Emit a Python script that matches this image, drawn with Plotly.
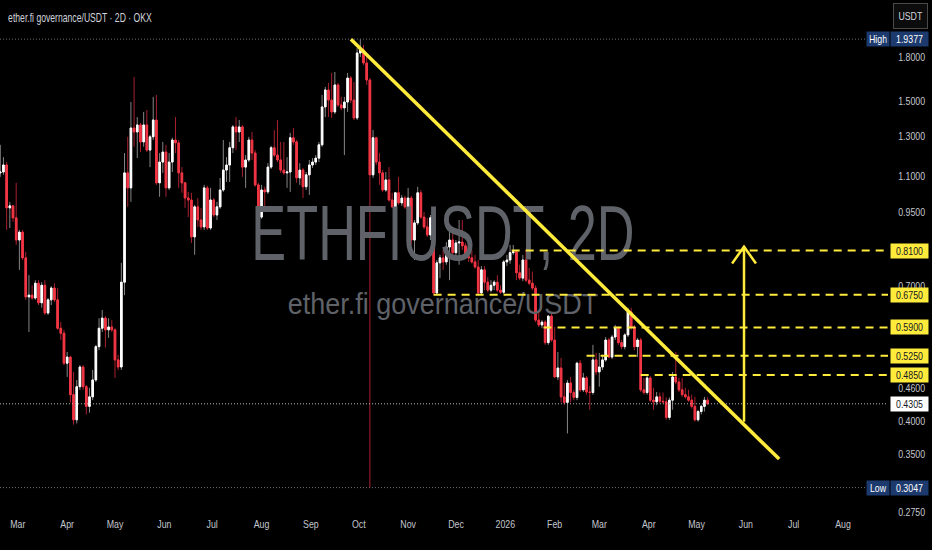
import json
import numpy as np
import pandas as pd
import plotly.graph_objects as go

# ---------------- data ----------------
START_DATE = "2025-02-18"   # first 2D candle

opens = [1.116,1.120,1.153,0.966,0.974,0.927,0.846,0.874,0.786,0.669,
 0.674,0.666,0.708,0.653,0.702,0.626,0.661,0.694,0.661,0.588,
 0.576,0.509,0.522,0.447,0.403,0.462,0.501,0.462,0.426,0.443,
 0.475,0.545,0.588,0.613,0.584,0.591,0.584,0.516,0.501,0.711,
 1.116,1.049,1.343,1.321,1.360,1.268,1.360,1.226,1.295,1.388,
 1.071,1.167,1.216,1.049,1.167,1.278,1.263,1.116,1.071,1.006,
 0.998,0.857,0.970,0.919,0.893,1.049,0.889,0.998,0.938,0.970,
 1.040,1.129,1.153,1.238,1.349,1.321,1.349,1.143,1.177,1.278,
 1.211,1.062,0.930,1.040,1.032,1.143,1.238,1.201,1.177,1.129,
 1.116,1.120,1.290,1.268,1.093,
 1.129,1.054,1.107,1.153,1.167,1.186,1.253,1.465,1.571,1.507,
 1.435,1.604,1.477,1.459,1.495,1.650,
 1.507,1.400,1.830,1.853,1.756,1.637,1.107,1.290,1.167,1.116,
 1.040,1.084,0.998,0.970,1.028,0.986,1.006,0.970,1.006,0.846,
 0.908,1.028,0.930,0.893,0.864,
 0.927,0.680,0.770,0.786,0.773,0.822,0.846,0.803,0.836,0.839,
 0.826,0.790,0.786,0.773,0.757,0.680,0.748,0.711,0.688,0.702,
 0.711,0.688,0.682,0.773,0.779,0.803,0.806,0.739,0.723,0.779,
 0.717,0.708,0.694,0.608,0.596,0.603,0.554,0.618,0.560,0.481,0.499,0.443,
 0.433,0.469,0.451,0.442,0.509,0.456,0.479,0.452,0.451,0.516,
 0.491,0.501,0.516,0.560,0.522,0.567,0.588,0.554,0.545,0.572,
 0.629,0.591,0.545,0.560,0.456,0.451,0.479,0.437,0.434,0.443,0.435,
 0.434,0.407,0.437,0.481,0.471,0.456,0.447,0.443,0.437,0.426,
 0.403,0.417,0.426,0.437]

highs = [1.253,1.191,1.167,0.990,0.978,1.071,0.882,0.882,0.806,0.732,
 0.702,0.717,0.717,0.711,0.717,0.666,0.699,0.708,0.694,0.603,
 0.584,0.533,0.525,0.491,0.475,0.505,0.505,0.465,0.460,0.495,
 0.549,0.613,0.634,0.618,0.613,0.608,0.588,0.527,0.770,1.211,
 1.295,1.495,1.657,1.405,1.371,1.435,1.446,1.305,1.527,1.539,
 1.211,1.268,1.253,1.211,1.290,1.405,1.278,1.143,1.075,1.032,
 1.028,0.978,1.006,0.966,1.062,1.058,1.049,1.006,0.990,1.093,
 1.278,1.191,1.268,1.360,1.405,1.388,1.360,1.201,1.295,1.321,
 1.226,1.071,1.062,1.054,1.162,1.248,1.332,1.388,1.268,1.268,
 1.191,1.316,1.343,1.278,1.162,
 1.139,1.120,1.177,1.186,1.201,1.268,1.539,1.591,1.617,1.685,
 1.692,1.617,1.527,1.527,1.685,1.664,
 1.624,1.867,1.9377,1.891,1.815,1.650,1.332,1.295,1.211,1.129,
 1.120,1.143,1.028,1.032,1.098,1.019,1.015,1.049,1.015,0.919,
 1.054,1.040,0.950,0.927,0.938,
 0.938,0.779,0.796,0.812,0.839,0.874,0.882,0.846,0.919,0.919,
 0.836,0.822,0.812,0.796,0.779,0.760,0.760,0.726,0.717,0.717,
 0.732,0.702,0.779,0.796,0.829,0.829,0.812,0.764,0.796,0.812,
 0.754,0.743,0.702,0.629,0.608,0.608,0.621,0.626,0.591,0.533,0.520,0.469,
 0.475,0.481,0.456,0.512,0.516,0.489,0.483,0.463,0.549,0.531,
 0.531,0.527,0.567,0.565,0.572,0.596,0.593,0.560,0.576,0.640,
 0.640,0.596,0.565,0.565,0.479,0.483,0.483,0.460,0.452,0.451,0.451,
 0.442,0.442,0.491,0.533,0.479,0.479,0.460,0.456,0.447,0.443,
 0.420,0.429,0.443,0.442]

lows = [1.098,1.107,0.882,0.889,0.912,0.829,0.748,0.779,0.661,0.579,
 0.661,0.661,0.647,0.640,0.621,0.621,0.647,0.655,0.584,0.560,
 0.505,0.481,0.433,0.395,0.397,0.456,0.456,0.412,0.415,0.437,
 0.471,0.537,0.579,0.543,0.565,0.579,0.479,0.495,0.495,0.674,
 0.970,0.990,1.243,1.186,1.216,1.243,1.216,1.143,1.278,1.062,
 1.011,1.116,1.011,1.040,1.120,1.211,1.049,1.028,0.966,0.930,
 0.836,0.796,0.893,0.882,0.882,0.882,0.882,0.930,0.919,0.962,
 1.032,1.075,1.075,1.211,1.226,1.268,1.098,1.049,1.167,1.177,
 1.054,0.908,0.923,0.958,1.023,1.134,1.191,1.167,1.116,1.107,
 1.049,1.032,1.253,1.071,1.062,
 1.006,1.040,1.019,1.139,1.153,1.167,1.243,1.405,1.405,1.400,
 1.423,1.465,1.446,1.201,1.435,1.489,
 1.388,1.388,1.800,1.742,1.604,0.3047,1.093,1.153,1.062,1.032,
 1.032,0.990,0.966,0.962,0.978,0.974,0.962,0.958,0.829,0.779,
 0.900,0.923,0.885,0.857,0.846,
 0.674,0.674,0.723,0.748,0.764,0.717,0.796,0.790,0.764,0.812,
 0.783,0.773,0.767,0.751,0.674,0.674,0.688,0.682,0.682,0.688,
 0.682,0.677,0.677,0.760,0.767,0.796,0.717,0.717,0.714,0.711,
 0.702,0.688,0.603,0.591,0.588,0.549,0.549,0.556,0.479,0.475,0.433,0.429,
 0.381,0.433,0.437,0.437,0.452,0.452,0.447,0.420,0.447,0.485,
 0.462,0.495,0.512,0.520,0.518,0.560,0.549,0.539,0.539,0.567,
 0.584,0.537,0.522,0.452,0.447,0.447,0.434,0.420,0.428,0.431,0.431,
 0.403,0.403,0.420,0.467,0.452,0.443,0.440,0.434,0.422,0.400,
 0.400,0.412,0.417,0.428]

closes = [1.120,1.153,0.966,0.974,0.927,0.846,0.874,0.786,0.669,0.674,
 0.666,0.708,0.653,0.702,0.626,0.661,0.694,0.661,0.588,0.576,
 0.509,0.522,0.447,0.403,0.462,0.501,0.462,0.426,0.443,0.475,
 0.545,0.588,0.613,0.584,0.591,0.584,0.516,0.501,0.711,1.116,
 1.049,1.343,1.321,1.360,1.268,1.360,1.226,1.295,1.388,1.071,
 1.167,1.216,1.049,1.167,1.278,1.263,1.116,1.071,1.006,0.998,
 0.857,0.970,0.919,0.893,1.049,0.889,0.998,0.938,0.970,1.040,
 1.129,1.153,1.238,1.349,1.321,1.349,1.143,1.177,1.278,1.211,
 1.062,0.930,1.040,1.032,1.143,1.238,1.201,1.177,1.129,1.116,
 1.120,1.290,1.268,1.093,1.129,
 1.054,1.107,1.153,1.167,1.186,1.253,1.465,1.571,1.507,1.435,
 1.604,1.477,1.459,1.495,1.650,1.507,
 1.400,1.830,1.853,1.756,1.637,1.107,1.290,1.167,1.116,1.040,
 1.084,0.998,0.970,1.028,0.986,1.006,0.970,1.006,0.846,0.908,
 1.028,0.930,0.893,0.864,0.927,
 0.680,0.770,0.786,0.773,0.822,0.846,0.803,0.836,0.839,0.826,
 0.790,0.786,0.773,0.757,0.680,0.748,0.711,0.688,0.702,0.711,
 0.688,0.682,0.773,0.779,0.803,0.806,0.739,0.723,0.779,0.717,
 0.708,0.694,0.608,0.596,0.603,0.554,0.618,0.560,0.481,0.499,0.443,0.433,
 0.469,0.451,0.442,0.509,0.456,0.479,0.452,0.451,0.516,0.491,
 0.501,0.516,0.560,0.522,0.567,0.588,0.554,0.545,0.572,0.629,
 0.591,0.545,0.560,0.456,0.451,0.479,0.437,0.434,0.443,0.435,0.434,
 0.407,0.437,0.481,0.471,0.456,0.447,0.443,0.437,0.426,0.403,
 0.417,0.426,0.437,0.4305]

HIGH_VALUE = 1.9377
LOW_VALUE = 0.3047
LAST_VALUE = 0.4305

LEVELS = [0.81, 0.675, 0.59, 0.525, 0.485]
LEVEL_START = ["2026-01-05", "2025-11-17", "2026-01-25", "2026-02-21", "2026-03-27"]

TREND_X = ["2025-09-26 02:00", "2026-06-21 22:00"]
TREND_Y = [1.937, 0.3427]

ARROW_X = ["2026-05-30 20:00", "2026-05-30 20:00"]
ARROW_Y = [0.3998, 0.823]
ARROW_HEAD_X = ["2026-05-23 08:00", "2026-05-30 20:00", "2026-06-07 08:00"]
ARROW_HEAD_Y = [0.768, 0.823, 0.768]

Y_TICKS = [1.8, 1.5, 1.3, 1.1, 0.95, 0.7, 0.46, 0.4, 0.35, 0.275]
X_TICKS = ["2025-03-01", "2025-04-01", "2025-05-01", "2025-06-01", "2025-07-01", "2025-08-01",
           "2025-09-01", "2025-10-01", "2025-11-01", "2025-12-01", "2026-01-01", "2026-02-01",
           "2026-03-01", "2026-04-01", "2026-05-01", "2026-06-01", "2026-07-01", "2026-08-01"]
X_LABELS = ["Mar", "Apr", "May", "Jun", "Jul", "Aug", "Sep", "Oct", "Nov", "Dec", "2026",
            "Feb", "Mar", "Apr", "May", "Jun", "Jul", "Aug"]

WATERMARK_TITLE = "ETHFIUSDT, 2D"
WATERMARK_SUB = "ether.fi governance/USDT"
CHART_TITLE = "ether.fi governance/USDT · 2D · OKX"

X_RANGE = ["2025-02-17 20:00", "2026-08-29 05:00"]
Y_RANGE_PRICE = [0.2710, 2.277]

# ---------------- styles ----------------
FONT = "Liberation Sans, Arial, sans-serif"
BG = "#000000"
UP = "#ffffff"
DOWN = "#f23645"
UP_WICK = "#858585"
DOWN_WICK = "#a8202e"
YELLOW = "#ffeb3b"
AXIS_TEXT = "#c3c6ce"
WATERMARK = "#5f6268"
BLUE_BOX = "#1d3a6e"

dates = pd.date_range(START_DATE, periods=len(closes), freq="2D")
o = np.array(opens); c = np.array(closes)
body_hi = np.maximum(o, c); body_lo = np.minimum(o, c)

fig = go.Figure()

# watermark (behind everything)
fig.add_trace(go.Scatter(x=["2025-11-22 21:00"], y=[0.845], mode="text",
                         text=[WATERMARK_TITLE], textposition="middle center",
                         textfont=dict(family=FONT, size=78, color=WATERMARK),
                         hoverinfo="skip", showlegend=False))
fig.add_trace(go.Scatter(x=["2025-11-22 21:00"], y=[0.643], mode="text",
                         text=[WATERMARK_SUB], textposition="middle center",
                         textfont=dict(family=FONT, size=29, color=WATERMARK),
                         hoverinfo="skip", showlegend=False))

# high / low / last dotted lines
fig.add_trace(go.Scatter(x=[X_RANGE[0], "2026-08-16"], y=[HIGH_VALUE]*2, mode="lines",
                         line=dict(color="#6d707a", width=1, dash="1px,2px"),
                         hoverinfo="skip", showlegend=False))
fig.add_trace(go.Scatter(x=[X_RANGE[0], "2026-08-16"], y=[LOW_VALUE]*2, mode="lines",
                         line=dict(color="#6d707a", width=1, dash="1px,2px"),
                         hoverinfo="skip", showlegend=False))
fig.add_trace(go.Scatter(x=X_RANGE, y=[LAST_VALUE]*2, mode="lines",
                         line=dict(color="#b8b8b8", width=1, dash="1px,2px"),
                         hoverinfo="skip", showlegend=False))

# candles: wicks (dim) then bodies (bright)
fig.add_trace(go.Candlestick(x=dates, open=opens, high=highs, low=lows, close=closes,
                             increasing=dict(line=dict(color=UP_WICK, width=1), fillcolor=UP_WICK),
                             decreasing=dict(line=dict(color=DOWN_WICK, width=1), fillcolor=DOWN_WICK),
                             hoverinfo="skip", showlegend=False))
fig.add_trace(go.Candlestick(x=dates, open=opens, high=body_hi, low=body_lo, close=closes,
                             increasing=dict(line=dict(color=UP, width=1), fillcolor=UP),
                             decreasing=dict(line=dict(color=DOWN, width=1), fillcolor=DOWN),
                             hoverinfo="skip", showlegend=False))

# dashed resistance levels
for lv, st in zip(LEVELS, LEVEL_START):
    fig.add_trace(go.Scatter(x=[st, X_RANGE[1]], y=[lv, lv], mode="lines",
                             line=dict(color=YELLOW, width=2, dash="8px,6px"),
                             hoverinfo="skip", showlegend=False))

# trendline
fig.add_trace(go.Scatter(x=TREND_X, y=TREND_Y, mode="lines",
                         line=dict(color=YELLOW, width=3.5),
                         hoverinfo="skip", showlegend=False))
# arrow
fig.add_trace(go.Scatter(x=ARROW_X, y=ARROW_Y, mode="lines",
                         line=dict(color=YELLOW, width=2.5),
                         hoverinfo="skip", showlegend=False))
fig.add_trace(go.Scatter(x=ARROW_HEAD_X, y=ARROW_HEAD_Y, mode="lines",
                         line=dict(color=YELLOW, width=2.5),
                         hoverinfo="skip", showlegend=False))

annotations = []
# title
annotations.append(dict(text=CHART_TITLE, xref="paper", yref="paper",
                        x=0, y=1, xanchor="left", yanchor="top", xshift=6, yshift=-9,
                        showarrow=False, font=dict(family=FONT, size=12, color="#d1d4dc")))
# USDT box
annotations.append(dict(text="USDT", xref="paper", yref="paper", x=1, y=1, xanchor="left",
                        yanchor="top", xshift=5, yshift=-3, width=33, height=24, showarrow=False,
                        bgcolor="#0c0c0c", bordercolor="#4a4a4a", borderwidth=1, borderpad=0,
                        font=dict(family=FONT, size=11, color="#d1d4dc")))


def price_label(v, text, bg, fg):
    return dict(text=text, xref="paper", yref="y", x=1, y=np.log10(v), xanchor="left",
                yanchor="middle", xshift=2, width=37, height=14, showarrow=False,
                bgcolor=bg, borderpad=0, font=dict(family=FONT, size=11, color=fg))


for lv in LEVELS:
    annotations.append(price_label(lv, f"{lv:.4f}", YELLOW, "#131722"))
annotations.append(price_label(LAST_VALUE, f"{LAST_VALUE:.4f}", "#ffffff", "#131722"))
annotations.append(price_label(HIGH_VALUE, f"{HIGH_VALUE:.4f}", BLUE_BOX, "#ffffff"))
annotations.append(price_label(LOW_VALUE, f"{LOW_VALUE:.4f}", BLUE_BOX, "#ffffff"))
for v, t in [(HIGH_VALUE, "High"), (LOW_VALUE, "Low")]:
    annotations.append(dict(text=t, xref="paper", yref="y", x=1, y=np.log10(v), xanchor="right",
                            yanchor="middle", xshift=2, width=22, height=14, showarrow=False,
                            bgcolor=BLUE_BOX, borderpad=0,
                            font=dict(family=FONT, size=11, color="#ffffff")))

fig.update_layout(
    width=932, height=550,
    margin=dict(l=0, r=42, t=0, b=34),
    paper_bgcolor=BG, plot_bgcolor=BG,
    showlegend=False,
    annotations=annotations,
    xaxis=dict(type="date", range=X_RANGE, showgrid=False, zeroline=False, showline=False,
               tickvals=X_TICKS, ticktext=X_LABELS, ticks="",
               tickfont=dict(family=FONT, size=11, color=AXIS_TEXT),
               rangeslider=dict(visible=False), fixedrange=True),
    yaxis=dict(type="log", side="right", range=[np.log10(Y_RANGE_PRICE[0]), np.log10(Y_RANGE_PRICE[1])],
               showgrid=False, zeroline=False, showline=False,
               tickvals=Y_TICKS, ticktext=[f"{v:.4f}" for v in Y_TICKS],
               ticks="outside", ticklen=7, tickcolor=BG,
               tickfont=dict(family=FONT, size=11, color=AXIS_TEXT), fixedrange=True),
)

# page tweaks: no body margin; the reference's lettering is horizontally condensed
SCALE = {WATERMARK_TITLE: 0.67, WATERMARK_SUB: 0.93, CHART_TITLE: 0.72}
LEFT_ANCHORED = [CHART_TITLE]
POST = """
document.body.style.margin = '0';
document.body.style.background = '#000';
var gd = document.getElementById('{plot_id}');
var F = %s;
var L = %s;
gd.querySelectorAll('text').forEach(function(t) {
  var s = t.textContent;
  var f = (s in F) ? F[s] : 0.8;
  var bb;
  try { bb = t.getBBox(); } catch (e) { return; }
  var left = (L.indexOf(s) >= 0) || (t.closest && t.closest('.ytick'));
  var x = left ? bb.x : bb.x + bb.width / 2;
  var tr = t.getAttribute('transform') || '';
  t.setAttribute('transform', tr + ' translate(' + x + ',0) scale(' + f + ',1) translate(' + (-x) + ',0)');
});
""" % (json.dumps(SCALE), json.dumps(LEFT_ANCHORED))

fig.write_html("out.html", post_script=POST, config={"displayModeBar": False})
